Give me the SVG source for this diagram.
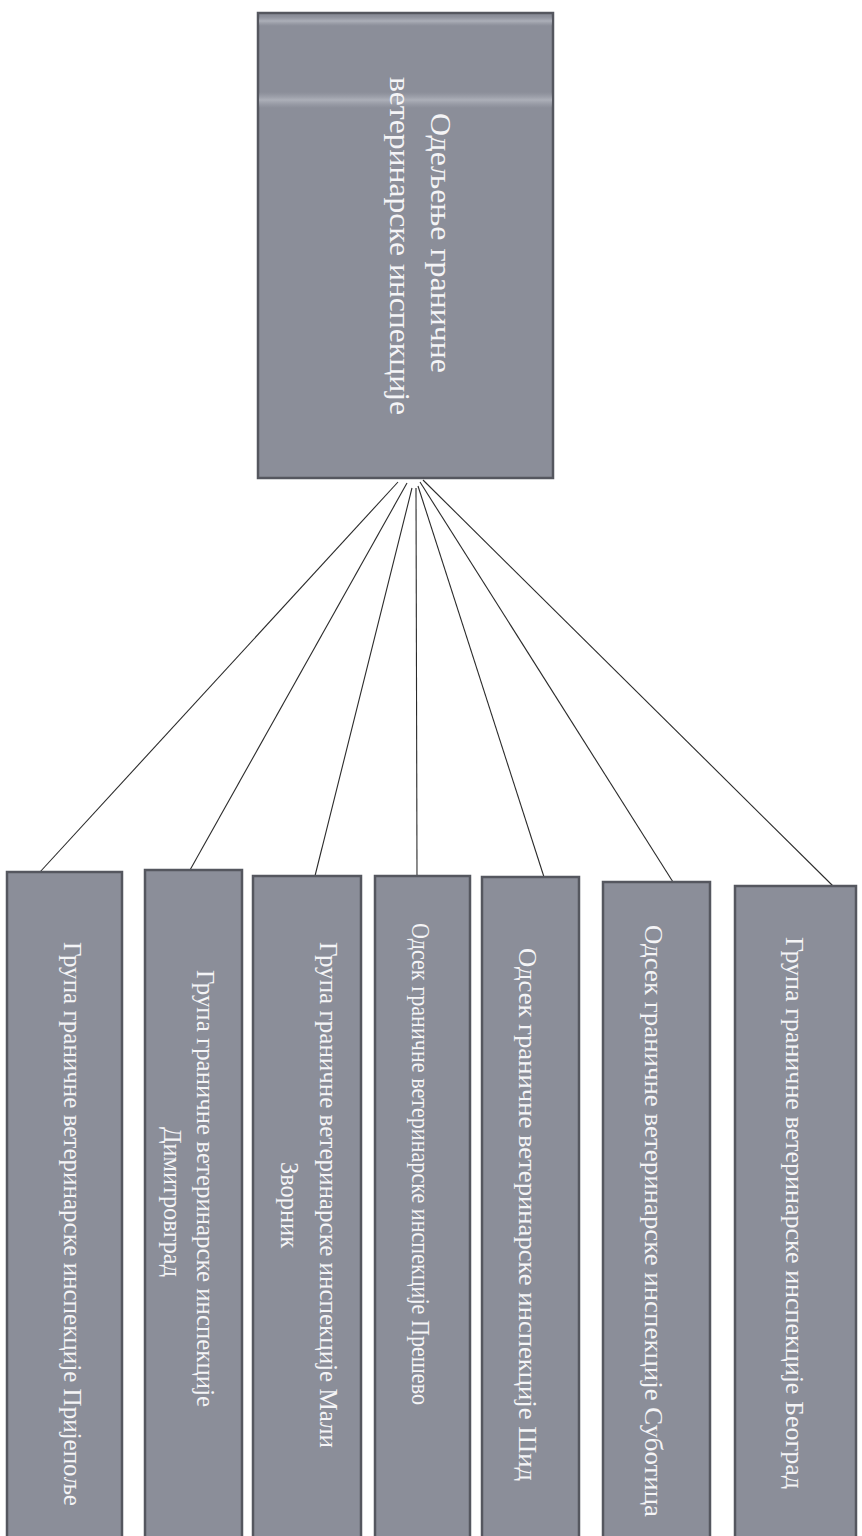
<svg xmlns="http://www.w3.org/2000/svg" width="862" height="1536" viewBox="0 0 862 1536">
<style>
.box{fill:#8b8e99;stroke:#55575f;stroke-width:2.5}
.t{font-family:"Liberation Serif","Times New Roman",serif;fill:#f4f4f6}
.tt{font-size:30px}
.bt{font-size:26px}
.c{stroke:#2a2a2a;stroke-width:1.1;fill:none}
</style>
<defs>
<linearGradient id="band" x1="0" y1="0" x2="0" y2="1">
<stop offset="0" stop-color="#a3a6b0" stop-opacity="0"/>
<stop offset="0.5" stop-color="#b0b3bc" stop-opacity="0.9"/>
<stop offset="1" stop-color="#a3a6b0" stop-opacity="0"/>
</linearGradient>
</defs>
<rect width="862" height="1536" fill="#ffffff"/>
<g id="connectors">
<line class="c" x1="398" y1="482" x2="40" y2="872"/>
<line class="c" x1="407" y1="483" x2="190" y2="870"/>
<line class="c" x1="412" y1="488" x2="315" y2="876"/>
<line class="c" x1="416" y1="488" x2="417" y2="876"/>
<line class="c" x1="418" y1="486" x2="544" y2="877"/>
<line class="c" x1="420" y1="482" x2="673" y2="882"/>
<line class="c" x1="423" y1="480" x2="833" y2="886"/>
</g>
<g id="node-root">
<rect class="box" x="258" y="13" width="295" height="465"/>
<rect x="259" y="16" width="293" height="10" fill="url(#band)"/>
<rect x="259" y="92" width="293" height="16" fill="url(#band)"/>
<text class="t tt" transform="translate(431,113) rotate(90)" textLength="260" lengthAdjust="spacingAndGlyphs">Одељење граничне</text>
<text class="t tt" transform="translate(390,77) rotate(90)" textLength="338" lengthAdjust="spacingAndGlyphs">ветеринарске инспекције</text>
</g>
<g id="node-prijepolje">
<rect class="box" x="7" y="872" width="115" height="670"/>
<text class="t bt" transform="translate(64,942) rotate(90)" textLength="564" lengthAdjust="spacingAndGlyphs">Група граничне ветеринарске инспекције Пријепоље</text>
</g>
<g id="node-dimitrovgrad">
<rect class="box" x="145" y="870" width="97" height="672"/>
<text class="t bt" transform="translate(197,970) rotate(90)" textLength="437" lengthAdjust="spacingAndGlyphs">Група граничне ветеринарске инспекције</text>
<text class="t bt" transform="translate(164,1127) rotate(90)" textLength="150" lengthAdjust="spacingAndGlyphs">Димитровград</text>
</g>
<g id="node-mali-zvornik">
<rect class="box" x="253" y="876" width="108" height="666"/>
<text class="t bt" transform="translate(320,942) rotate(90)" textLength="506" lengthAdjust="spacingAndGlyphs">Група граничне ветеринарске инспекције Мали</text>
<text class="t bt" transform="translate(281,1162) rotate(90)" textLength="86" lengthAdjust="spacingAndGlyphs">Зворник</text>
</g>
<g id="node-presevo">
<rect class="box" x="375" y="876" width="95" height="666"/>
<text class="t bt" transform="translate(412,923) rotate(90)" textLength="482" lengthAdjust="spacingAndGlyphs">Одсек граничне ветеринарске инспекције Прешево</text>
</g>
<g id="node-sid">
<rect class="box" x="482" y="877" width="97" height="665"/>
<text class="t bt" transform="translate(519,948) rotate(90)" textLength="533" lengthAdjust="spacingAndGlyphs">Одсек граничне ветеринарске инспекције Шид</text>
</g>
<g id="node-subotica">
<rect class="box" x="603" y="882" width="107" height="660"/>
<text class="t bt" transform="translate(645,925) rotate(90)" textLength="592" lengthAdjust="spacingAndGlyphs">Одсек граничне ветеринарске инспекције Суботица</text>
</g>
<g id="node-beograd">
<rect class="box" x="735" y="886" width="121" height="656"/>
<text class="t bt" transform="translate(786,937) rotate(90)" textLength="552" lengthAdjust="spacingAndGlyphs">Група граничне ветеринарске инспекције Београд</text>
</g>
</svg>
